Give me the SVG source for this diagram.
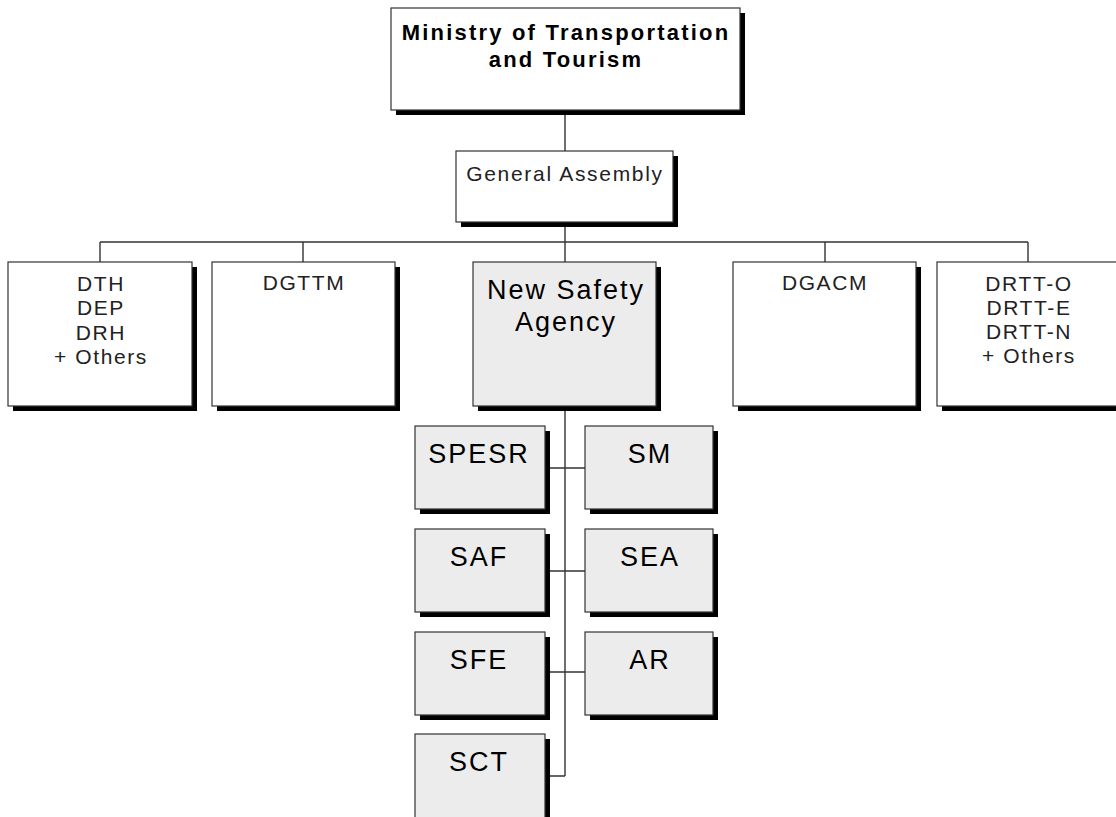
<svg xmlns="http://www.w3.org/2000/svg" width="1116" height="817" viewBox="0 0 1116 817">
<style>
.sh{fill:#000}
.bx{fill:#fff;stroke:#333;stroke-width:1.2}
.gb{fill:#ececec;stroke:#333;stroke-width:1.2}
.ln{fill:none;stroke:#333;stroke-width:1.4}
.t{font-family:"Liberation Sans",Arial,sans-serif;font-size:21px;fill:#222;text-anchor:middle;letter-spacing:1.6px}
.tb{font-family:"Liberation Sans",Arial,sans-serif;font-size:22px;font-weight:bold;fill:#000;text-anchor:middle;letter-spacing:2.2px}
.tm{font-family:"Liberation Sans",Arial,sans-serif;font-size:27px;fill:#000;text-anchor:middle;letter-spacing:2px}
</style>
<rect width="1116" height="817" fill="#fff"/>
<g id="connectors">
<path class="ln" d="M565 110V151M565 222V776M100 242H1028M100 242V262M303 242V262M825 242V262M1028 242V262M545 468H585M545 571H585M545 672H585M545 776H565"/>
</g>
<g id="ministry">
<rect class="sh" x="396" y="13" width="349" height="102"/>
<rect class="bx" x="391" y="8" width="349" height="102"/>
<text class="tb" x="566" y="40">Ministry of Transportation</text>
<text class="tb" x="566" y="67">and Tourism</text>
</g>
<g id="general-assembly">
<rect class="sh" x="461" y="156" width="217" height="71"/>
<rect class="bx" x="456" y="151" width="217" height="71"/>
<text class="t" x="565" y="181" style="letter-spacing:1.7px">General Assembly</text>
</g>
<g id="dth">
<rect class="sh" x="13" y="267" width="184" height="144"/>
<rect class="bx" x="8" y="262" width="184" height="144"/>
<text class="t" x="101" y="291">DTH</text>
<text class="t" x="101" y="315">DEP</text>
<text class="t" x="101" y="340">DRH</text>
<text class="t" x="101" y="364">+ Others</text>
</g>
<g id="dgttm">
<rect class="sh" x="217" y="267" width="183" height="144"/>
<rect class="bx" x="212" y="262" width="183" height="144"/>
<text class="t" x="304" y="290">DGTTM</text>
</g>
<g id="nsa">
<rect class="sh" x="478" y="267" width="183" height="144"/>
<rect class="gb" x="473" y="262" width="183" height="144"/>
<text class="tm" x="566" y="299">New Safety</text>
<text class="tm" x="566" y="331">Agency</text>
</g>
<g id="dgacm">
<rect class="sh" x="738" y="267" width="183" height="144"/>
<rect class="bx" x="733" y="262" width="183" height="144"/>
<text class="t" x="825" y="290">DGACM</text>
</g>
<g id="drtt">
<rect class="sh" x="942" y="267" width="183" height="144"/>
<rect class="bx" x="937" y="262" width="183" height="144"/>
<text class="t" x="1029" y="291">DRTT-O</text>
<text class="t" x="1029" y="315">DRTT-E</text>
<text class="t" x="1029" y="339">DRTT-N</text>
<text class="t" x="1029" y="363">+ Others</text>
</g>
<g id="spesr">
<rect class="sh" x="420" y="431" width="130" height="83"/>
<rect class="gb" x="415" y="426" width="130" height="83"/>
<text class="tm" x="479" y="463">SPESR</text>
</g>
<g id="sm">
<rect class="sh" x="590" y="431" width="128" height="83"/>
<rect class="gb" x="585" y="426" width="128" height="83"/>
<text class="tm" x="650" y="463">SM</text>
</g>
<g id="saf">
<rect class="sh" x="420" y="534" width="130" height="83"/>
<rect class="gb" x="415" y="529" width="130" height="83"/>
<text class="tm" x="479" y="566">SAF</text>
</g>
<g id="sea">
<rect class="sh" x="590" y="534" width="128" height="83"/>
<rect class="gb" x="585" y="529" width="128" height="83"/>
<text class="tm" x="650" y="566">SEA</text>
</g>
<g id="sfe">
<rect class="sh" x="420" y="637" width="130" height="83"/>
<rect class="gb" x="415" y="632" width="130" height="83"/>
<text class="tm" x="479" y="669">SFE</text>
</g>
<g id="ar">
<rect class="sh" x="590" y="637" width="128" height="83"/>
<rect class="gb" x="585" y="632" width="128" height="83"/>
<text class="tm" x="650" y="669">AR</text>
</g>
<g id="sct">
<rect class="sh" x="420" y="739" width="130" height="90"/>
<rect class="gb" x="415" y="734" width="130" height="90"/>
<text class="tm" x="479" y="771">SCT</text>
</g>
</svg>
